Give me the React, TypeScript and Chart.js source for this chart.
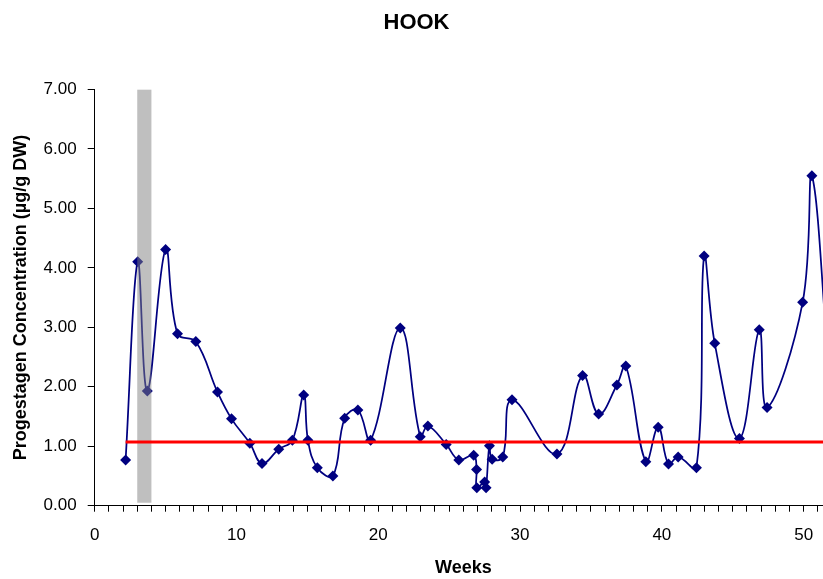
import { useEffect, useRef } from "react";
import { Chart, registerables } from "chart.js";

Chart.register(...registerables);

// Sampling week and measured progestagen concentration (µg/g DW)
const weeks = [
  2.18, 3.03, 3.71, 5.0, 5.84, 7.13, 8.66, 9.65, 10.94, 11.8,
  12.98, 13.94, 14.74, 15.04, 15.7, 16.8, 17.63, 18.56, 19.46, 21.55,
  22.96, 23.5, 24.79, 25.68, 26.73, 26.93, 26.95, 27.5, 27.6, 27.84,
  28.03, 28.78, 29.43, 32.6, 34.41, 35.54, 36.83, 37.46, 38.87, 39.74,
  40.47, 41.15, 42.44, 42.98, 43.73, 45.47, 46.87, 47.42, 49.93, 50.58,
  51.85,
];
const concentration = [
  0.77, 4.1, 1.93, 4.31, 2.89, 2.76, 1.91, 1.46, 1.05, 0.71,
  0.95, 1.1, 1.86, 1.1, 0.64, 0.5, 1.47, 1.61, 1.1, 2.99,
  1.16, 1.34, 1.03, 0.77, 0.85, 0.61, 0.3, 0.4, 0.3, 1.01,
  0.78, 0.82, 1.78, 0.87, 2.19, 1.54, 2.03, 2.35, 0.74, 1.32,
  0.7, 0.82, 0.64, 4.2, 2.73, 1.13, 2.96, 1.65, 3.42, 5.55,
  2.0,
];

// Baseline threshold drawn as a horizontal red line
const baselineLevel = 1.07;
const baselineWeeks = [2.18, 52];

// Shaded interval (weeks) and its vertical extent
const shadedWeeks = [3.0, 4.0];
const shadedLevels = [0.05, 7.0];

const yTickValues = [0, 1, 2, 3, 4, 5, 6, 7];
const xTickLabelStep = 10;
const xMax = 52;

const FONT = "'Liberation Sans', Arial, Helvetica, sans-serif";

const shadePlugin = {
  id: "shadedInterval",
  afterDatasetDraw(chart: any, args: any) {
    if (args.index !== 0) return;
    const { ctx, scales, chartArea } = chart;
    const x0 = scales.x.getPixelForValue(shadedWeeks[0]);
    const x1 = scales.x.getPixelForValue(shadedWeeks[1]);
    const yTop = scales.y.getPixelForValue(shadedLevels[1]);
    const yBot = scales.y.getPixelForValue(shadedLevels[0]);
    ctx.save();
    ctx.beginPath();
    ctx.rect(chartArea.left, chartArea.top, chartArea.right - chartArea.left, chartArea.bottom - chartArea.top);
    ctx.clip();
    ctx.fillStyle = "rgba(128,128,128,0.5)";
    ctx.fillRect(x0, yTop, x1 - x0, yBot - yTop);
    ctx.restore();
  },
};

export default function App() {
  const ref = useRef<HTMLCanvasElement>(null);

  useEffect(() => {
    const canvas = ref.current;
    if (!canvas) return;
    const chart = new Chart(canvas, {
      type: "line",
      data: {
        datasets: [
          {
            label: "Progestagen",
            data: weeks.map((w, i) => ({ x: w, y: concentration[i] })),
            borderColor: "#000080",
            backgroundColor: "#000080",
            borderWidth: 1.75,
            pointStyle: "rectRot",
            pointRadius: 5.5,
            pointBorderWidth: 0,
            tension: 0.4,
            order: 2,
          },
          {
            label: "Baseline",
            data: baselineWeeks.map((w) => ({ x: w, y: baselineLevel })),
            borderColor: "#FF0000",
            borderWidth: 3,
            pointRadius: 0,
            tension: 0,
            order: 1,
          },
        ],
      },
      options: {
        responsive: false,
        maintainAspectRatio: false,
        animation: false,
        layout: { padding: { left: 0, right: 12, top: 0, bottom: 0 } },
        plugins: {
          legend: { display: false },
          tooltip: { enabled: false },
          title: {
            display: true,
            text: "HOOK",
            color: "#000",
            font: { family: FONT, size: 22, weight: "bold" },
            padding: { top: 10, bottom: 53 },
          },
        },
        scales: {
          x: {
            type: "linear",
            min: 0,
            max: xMax,
            afterBuildTicks: (scale: any) => {
              const ticks = [];
              for (let v = 0; v <= xMax; v++) ticks.push({ value: v });
              scale.ticks = ticks;
            },
            afterFit: (scale: any) => {
              scale.height = 73.3;
            },
            ticks: {
              autoSkip: false,
              maxRotation: 0,
              color: "#000",
              padding: 13,
              font: { family: FONT, size: 17 },
              callback: (v: any) => (Number(v) % xTickLabelStep === 0 ? String(v) : ""),
            },
            grid: {
              display: true,
              drawOnChartArea: false,
              drawTicks: true,
              tickLength: 6,
              color: "#000",
            },
            border: { display: true, color: "#000", width: 1 },
            title: {
              display: true,
              text: "Weeks",
              color: "#000",
              font: { family: FONT, size: 18, weight: "bold" },
              padding: { top: 0, bottom: 0 },
            },
          },
          y: {
            type: "linear",
            min: 0,
            max: 7,
            afterBuildTicks: (scale: any) => {
              scale.ticks = yTickValues.map((v) => ({ value: v }));
            },
            afterFit: (scale: any) => {
              scale.width = 94.7;
            },
            ticks: {
              color: "#000",
              padding: 11,
              font: { family: FONT, size: 17 },
              callback: (v: any) => Number(v).toFixed(2),
            },
            grid: {
              display: true,
              drawOnChartArea: false,
              drawTicks: true,
              tickLength: 7,
              color: "#000",
            },
            border: { display: true, color: "#000", width: 1 },
            title: {
              display: true,
              text: "Progestagen Concentration (µg/g DW)",
              color: "#000",
              font: { family: FONT, size: 18, weight: "bold" },
              padding: { top: 10, bottom: 0 },
            },
          },
        },
      },
      plugins: [shadePlugin],
    });
    return () => chart.destroy();
  }, []);

  return (
    <div
      style={{
        position: "fixed",
        left: 0,
        top: 0,
        width: 823,
        height: 579,
        overflow: "hidden",
        background: "#fff",
      }}
    >
      <canvas ref={ref} width={845} height={579} style={{ display: "block", width: 845, height: 579 }} />
    </div>
  );
}
